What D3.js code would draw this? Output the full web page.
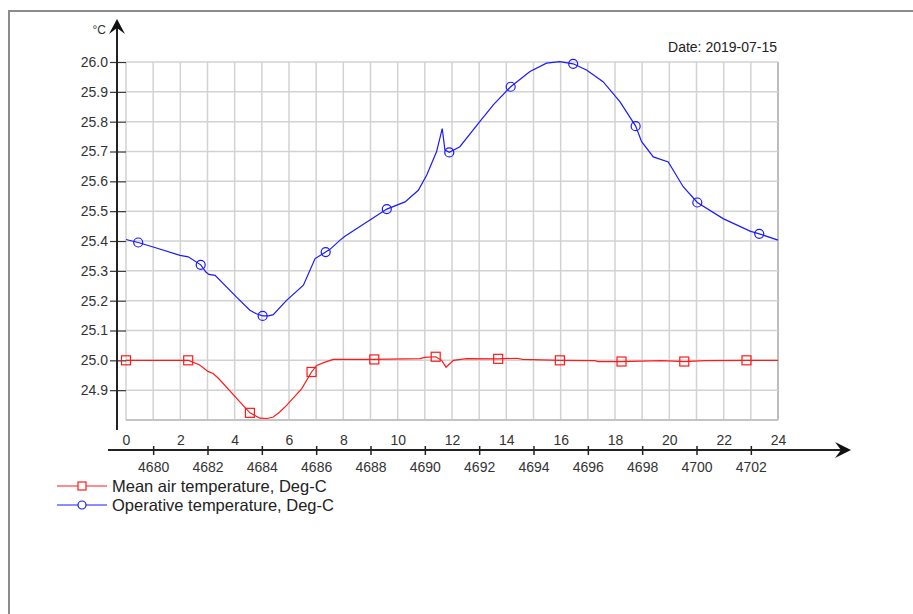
<!DOCTYPE html>
<html>
<head>
<meta charset="utf-8">
<script src="https://cdn.jsdelivr.net/npm/d3@7"></script>
<style>
  html, body { margin: 0; padding: 0; background: #fff; }
  svg { display: block; font-family: "Liberation Sans", Arial, sans-serif; }
</style>
</head>
<body>
<svg id="chart" width="913" height="614"></svg>
<script>
// ---------- data ----------
const dateLabel = "Date: 2019-07-15";
const unitLabel = "°C";
const hourTicks = [0, 2, 4, 6, 8, 10, 12, 14, 16, 18, 20, 22, 24];
const stepTicks = [4680, 4682, 4684, 4686, 4688, 4690, 4692, 4694, 4696, 4698, 4700, 4702];
const stepAtHourZero = 4679;
const yTicks = [24.9, 25.0, 25.1, 25.2, 25.3, 25.4, 25.5, 25.6, 25.7, 25.8, 25.9, 26.0];
const seriesNames = ["Mean air temperature, Deg-C", "Operative temperature, Deg-C"];
const seriesColors = ["#ff1a1a", "#1a1aff"];

// [hour, value]
const meanAirTemp = [
  [0, 25.0], [2.29, 25.0], [2.7, 24.985], [3.03, 24.962], [3.21, 24.956], [3.4, 24.94],
  [4.56, 24.824], [4.93, 24.806], [5.2, 24.805], [5.42, 24.81], [5.65, 24.826],
  [5.91, 24.849], [6.47, 24.905], [6.83, 24.961], [7.02, 24.983], [7.3, 24.993],
  [7.63, 25.003], [9.14, 25.003], [10.82, 25.006], [11.0, 25.010], [11.4, 25.012],
  [11.62, 25.0], [11.78, 24.977], [12.05, 25.0], [12.54, 25.006], [13.7, 25.005],
  [14.38, 25.007], [14.6, 25.003], [15.97, 25.0], [17.26, 24.999], [17.38, 24.996],
  [18.24, 24.996], [19.72, 24.999], [20.55, 24.996], [21.31, 24.999], [22.84, 25.0],
  [24, 25.0]
];
const meanAirMarkerHours = [0, 2.29, 4.56, 6.83, 9.14, 11.4, 13.7, 15.97, 18.24, 20.55, 22.84];

const operativeTemp = [
  [0, 25.405], [0.45, 25.395], [1.0, 25.380], [1.99, 25.352], [2.29, 25.347],
  [2.75, 25.320], [2.95, 25.295], [3.05, 25.288], [3.28, 25.285], [4.07, 25.212],
  [4.56, 25.168], [4.8, 25.156], [5.03, 25.149], [5.25, 25.149], [5.42, 25.153],
  [5.91, 25.201], [6.53, 25.252], [6.96, 25.341], [7.35, 25.363], [7.51, 25.372],
  [7.88, 25.403], [8.06, 25.416], [9.6, 25.507], [10.27, 25.531], [10.76, 25.570],
  [11.07, 25.621], [11.43, 25.699], [11.64, 25.777], [11.74, 25.705], [11.9, 25.697],
  [12.29, 25.716], [12.97, 25.794], [13.52, 25.856], [14.16, 25.917], [14.87, 25.968],
  [15.48, 25.996], [15.97, 26.001], [16.46, 25.994], [16.95, 25.973], [17.56, 25.934],
  [18.18, 25.867], [18.76, 25.785], [18.98, 25.733], [19.41, 25.682], [19.96, 25.665],
  [20.51, 25.582], [21.03, 25.529], [21.98, 25.475], [22.97, 25.433], [23.31, 25.424],
  [24, 25.403]
];
const operativeMarkerHours = [0.45, 2.75, 5.03, 7.35, 9.6, 11.9, 14.16, 16.46, 18.76, 21.03, 23.31];

// ---------- layout ----------
const plotLeft = 126, plotRight = 778, plotTop = 62, plotBottom = 420;
const yDomain = [24.8, 26.0];
const svg = d3.select("#chart");

const x = d3.scaleLinear().domain([0, 24]).range([plotLeft, plotRight]);
const xStep = d3.scaleLinear().domain([stepAtHourZero, stepAtHourZero + 24]).range([plotLeft, plotRight]);
const y = d3.scaleLinear().domain(yDomain).range([plotBottom, plotTop]);

// outer frame
svg.append("rect").attr("x", 9).attr("y", 11).attr("width", 1000).attr("height", 1000)
  .attr("fill", "none").attr("stroke", "#8c8c8c").attr("stroke-width", 2);

// grid
const grid = svg.append("g");
d3.range(0, 25).forEach(h => {
  grid.append("line").attr("x1", x(h)).attr("x2", x(h)).attr("y1", plotTop).attr("y2", plotBottom)
    .attr("stroke", h === 24 ? "#bdbdbd" : "#d2d2d2").attr("stroke-width", h === 24 ? 2 : 1.5);
});
d3.range(0, 13).forEach(i => {
  const v = yDomain[0] + i * 0.1;
  grid.append("line").attr("x1", plotLeft).attr("x2", plotRight).attr("y1", y(v)).attr("y2", y(v))
    .attr("stroke", i === 0 ? "#c4c4c4" : "#d2d2d2").attr("stroke-width", i === 0 ? 2 : 1.5);
});

// y axis
const yAxis = svg.append("g").attr("transform", `translate(${plotLeft},0)`)
  .call(d3.axisLeft(y).tickValues(yTicks).tickFormat(d3.format(".1f")).tickSize(16).tickPadding(2));
yAxis.select(".domain").remove();
yAxis.selectAll(".tick line").attr("stroke", "#333").attr("stroke-width", 1.2);
yAxis.selectAll("text").attr("font-size", 14).attr("fill", "#333").attr("font-family", "Liberation Sans, Arial, sans-serif");

svg.append("line").attr("x1", 117).attr("x2", 117).attr("y1", 24).attr("y2", 430)
  .attr("stroke", "#222").attr("stroke-width", 2);
svg.append("path").attr("d", "M117,19 L125,34 L117,28 L109,34 Z").attr("fill", "#111");
svg.append("text").attr("x", 106).attr("y", 34).attr("text-anchor", "end")
  .attr("font-size", 12).attr("fill", "#333").text(unitLabel);

// hour labels
const hourAxis = svg.append("g").attr("transform", `translate(0,432)`)
  .call(d3.axisBottom(x).tickValues(hourTicks).tickFormat(d3.format("d")).tickSize(0).tickPadding(3));
hourAxis.select(".domain").remove();
hourAxis.selectAll("text").attr("font-size", 14).attr("fill", "#333").attr("font-family", "Liberation Sans, Arial, sans-serif");

// time-step axis
svg.append("line").attr("x1", 108).attr("x2", 846).attr("y1", 450).attr("y2", 450)
  .attr("stroke", "#222").attr("stroke-width", 2);
svg.append("path").attr("d", "M851,450 L835,442 L841,450 L835,458 Z").attr("fill", "#111");
const stepAxis = svg.append("g").attr("transform", `translate(0,450)`)
  .call(d3.axisBottom(xStep).tickValues(stepTicks).tickFormat(d3.format("d")).tickSize(5).tickPadding(7));
stepAxis.select(".domain").remove();
stepAxis.selectAll(".tick line").attr("y1", -4).attr("y2", 5).attr("stroke", "#222").attr("stroke-width", 1.5);
stepAxis.selectAll("text").attr("font-size", 14).attr("fill", "#333").attr("font-family", "Liberation Sans, Arial, sans-serif");

// date label
svg.append("text").attr("x", 777).attr("y", 52).attr("text-anchor", "end")
  .attr("font-size", 14).attr("fill", "#222").text(dateLabel);

// lines
const line = d3.line().x(d => x(d[0])).y(d => y(d[1]));
svg.append("path").datum(meanAirTemp).attr("d", line)
  .attr("fill", "none").attr("stroke", seriesColors[0]).attr("stroke-width", 1.2);
svg.append("path").datum(operativeTemp).attr("d", line)
  .attr("fill", "none").attr("stroke", seriesColors[1]).attr("stroke-width", 1.2);

// markers
svg.append("g").selectAll("rect")
  .data(meanAirTemp.filter(d => meanAirMarkerHours.includes(d[0])))
  .join("rect")
  .attr("x", d => x(d[0]) - 4.5).attr("y", d => y(d[1]) - 4.5)
  .attr("width", 9).attr("height", 9)
  .attr("fill", "none").attr("stroke", seriesColors[0]).attr("stroke-width", 1.2);
svg.append("g").selectAll("circle")
  .data(operativeTemp.filter(d => operativeMarkerHours.includes(d[0])))
  .join("circle")
  .attr("cx", d => x(d[0])).attr("cy", d => y(d[1])).attr("r", 4.5)
  .attr("fill", "none").attr("stroke", seriesColors[1]).attr("stroke-width", 1.2);

// legend
const legendY = [486, 505];
seriesNames.forEach((name, i) => {
  const g = svg.append("g");
  g.append("line").attr("x1", 57).attr("x2", 107).attr("y1", legendY[i]).attr("y2", legendY[i])
    .attr("stroke", seriesColors[i]).attr("stroke-width", 1.2);
  if (i === 0) {
    g.append("rect").attr("x", 78).attr("y", legendY[i] - 4).attr("width", 8).attr("height", 8)
      .attr("fill", "#fff").attr("stroke", seriesColors[i]).attr("stroke-width", 1.2);
  } else {
    g.append("circle").attr("cx", 82).attr("cy", legendY[i]).attr("r", 4)
      .attr("fill", "#fff").attr("stroke", seriesColors[i]).attr("stroke-width", 1.2);
  }
  g.append("text").attr("x", 112).attr("y", legendY[i] + 5.5)
    .attr("font-size", 16.5).attr("fill", "#222").text(name);
});
</script>
</body>
</html>
